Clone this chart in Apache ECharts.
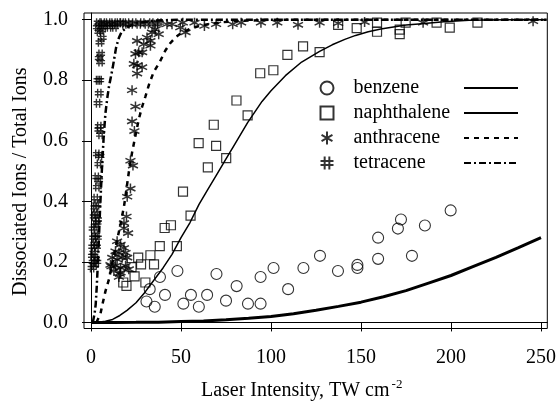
<!DOCTYPE html>
<html>
<head>
<meta charset="utf-8">
<script src="https://cdn.jsdelivr.net/npm/echarts@6/dist/echarts.min.js"></script>
<style>
html, body { margin: 0; padding: 0; background: #fff; }
#chartmain { width: 559px; height: 406px; }
</style>
</head>
<body>
<div id="chartmain"></div>
<script>
var names = ['benzene', 'naphthalene', 'anthracene', 'tetracene'];
var xTicks = [0, 50, 100, 150, 200, 250];
var yTicks = [0, 0.2, 0.4, 0.6, 0.8, 1.0];

// measured points [intensity, fraction]
var benzeneData = [[30.8,0.069],[35.4,0.052],[32.6,0.11],[38.3,0.15],[41.1,0.091],[48,0.17],[51.3,0.062],
	[55.5,0.091],[59.9,0.052],[64.5,0.091],[69.7,0.16],[75,0.072],[80.9,0.12],[87.2,0.062],[94.2,0.062],
	[94.2,0.15],[101.4,0.18],[109.5,0.11],[118,0.18],[127.2,0.22],[137.2,0.17],[148,0.19],[148,0.18],
	[159.5,0.21],[159.5,0.28],[170.5,0.31],[172.2,0.34],[178.3,0.22],[185.5,0.32],[199.8,0.37]];
var naphthaleneData = [[17.9,0.132],[19.7,0.121],[22.5,0.183],[24.2,0.152],[26.2,0.214],[27.8,0.192],
	[30.2,0.132],[33,0.222],[35,0.192],[38.2,0.252],[40.9,0.312],[44.4,0.321],[47.7,0.252],[51.1,0.432],
	[55.3,0.353],[59.8,0.592],[64.9,0.512],[68.2,0.653],[69.5,0.583],[75.1,0.543],[80.8,0.733],[87,0.684],
	[94,0.823],[101.3,0.833],[109.1,0.884],[117.8,0.912],[127,0.893],[137.3,0.983],[147.6,0.972],
	[158.9,0.99],[158.9,0.96],[171.5,0.967],[171.5,0.952],[174.8,0.99],[192,0.99],[199.3,0.974],[214.7,0.99]];
var anthraceneData = [[10.8,0.19],[11.4,0.185],[11.8,0.214],[12.7,0.17],[13.6,0.235],[13.6,0.187],
	[14.5,0.268],[14.5,0.208],[15.5,0.23],[15.5,0.15],[16,0.16],[16.4,0.257],[16.4,0.181],[16.4,0.165],
	[17.3,0.214],[18.3,0.311],[18.3,0.246],[19.2,0.23],[19.2,0.187],[20.1,0.214],[21,0.176],[20.6,0.295],
	[19.7,0.35],[18.3,0.328],[20.1,0.415],[21.9,0.442],[21.9,0.534],[23.3,0.518],[22.8,0.664],[24.1,0.632],
	[22.8,0.767],[24.7,0.713],[25.6,0.822],[23.8,0.854],[25.6,0.849],[28.4,0.843],[24.7,0.887],[26.5,0.892],
	[28.4,0.892],[29.3,0.919],[33,0.914],[25.6,0.93],[31.1,0.941],[33,0.93],[33.9,0.958],[35.7,0.968],
	[37.6,0.952],[42.2,0.985],[45,0.985],[49.6,0.974],[51,0.99],[52.5,0.958],[57.5,0.99],[63,0.979],
	[69.5,0.985],[78.7,0.985],[83.4,0.99],[94.4,0.99],[103.5,0.99],[115,0.983],[127,0.99],[137.3,0.988],
	[152,0.992],[184.5,0.99],[245.6,0.995]];
var tetraceneData = [[0.6,0.18],[1.2,0.2],[2.0,0.19],[0.8,0.22],[1.6,0.23],[2.5,0.21],[3.2,0.2],[1.0,0.25],
	[2.2,0.26],[3.0,0.25],[1.5,0.28],[2.6,0.29],[3.5,0.28],[1.2,0.31],[2.4,0.32],[3.3,0.33],[1.8,0.35],
	[2.8,0.36],[3.6,0.34],[2.2,0.38],[3.2,0.39],[2.6,0.41],[3.5,0.447],[4.2,0.47],[3.2,0.48],[4.4,0.523],
	[3.5,0.556],[5.0,0.55],[4.4,0.637],[5.3,0.62],[4.6,0.648],[3.9,0.724],[4.6,0.757],[3.9,0.8],[4.8,0.8],
	[5.3,0.86],[4.6,0.873],[5.3,0.887],[5.0,0.925],[6.2,0.94],[4.4,0.96],[5.8,0.965],[5,0.985],[6.5,0.99],
	[8,0.985],[9.5,0.99],[11,0.985],[12.5,0.99],[14,0.985],[15.5,0.99],[17,0.99],[18.5,0.985],[20,0.99],
	[22,0.985],[24,0.99],[26.5,0.985],[28.5,0.99],[31,0.985],[33.5,0.99],[36,0.985],[38,0.99],[4,0.99],
	[7,0.975],[10,0.975],[13,0.975],[3.5,0.975]];

// fitted curves
var benzeneFit = [[0,0],[12.5,0.0001],[25,0.0004],[37.5,0.001],[50,0.003],[62.5,0.005],[75,0.009],
	[87.5,0.014],[100,0.02],[112.5,0.029],[125,0.04],[137.5,0.053],[150,0.067],[162.5,0.085],[175,0.105],
	[187.5,0.13],[200,0.155],[212.5,0.185],[225,0.215],[237.5,0.247],[250,0.28]];
var naphthaleneFit = [[3,0],[8,0.004],[12,0.01],[16,0.023],[20,0.04],[25,0.065],[30,0.1],[35,0.14],
	[40,0.18],[45,0.225],[50,0.28],[55,0.33],[60,0.39],[65,0.44],[70,0.49],[75,0.54],[80,0.59],[87,0.66],
	[95,0.73],[100,0.765],[108,0.815],[117,0.86],[127,0.895],[134,0.917],[141,0.935],[147,0.948],[154,0.96],
	[161,0.969],[168,0.976],[175,0.982],[182,0.986],[196,0.993],[210,0.998],[230,1.0],[253,1.0]];
var anthraceneFit = [[3,0],[5.3,0.03],[6.2,0.056],[8.1,0.105],[10,0.143],[13,0.23],[16.4,0.325],
	[18.3,0.382],[21,0.496],[22.8,0.561],[24.1,0.6],[26.5,0.67],[28.4,0.713],[30.2,0.746],[32.4,0.789],
	[34.8,0.827],[38.2,0.86],[41.3,0.898],[44,0.922],[46.8,0.941],[50,0.955],[55,0.97],[60,0.979],
	[65,0.985],[72,0.991],[80,0.995],[100,1.0],[253,1.0]];
var tetraceneFit = [[1,0],[2,0.03],[2.6,0.06],[3.2,0.12],[4,0.22],[5,0.37],[6,0.5],[7,0.61],[8,0.69],
	[9,0.74],[10,0.78],[11,0.81],[12,0.84],[13,0.875],[14,0.91],[15.5,0.94],[17,0.96],[20,0.975],
	[25,0.988],[35,0.997],[50,1.0],[253,1.0]];

var font = 'Liberation Serif';
var asterisk = 'path://M5,0 L5,10 M0.8,2.6 L9.2,7.4 M0.8,7.4 L9.2,2.6';
var hash = 'path://M3.2,0 L3.2,10 M6.8,0 L6.8,10 M0,3.4 L10,3.4 M0,6.6 L10,6.6';

function pointSeries(name, data, symbol, size, width) {
	return {
		name : name,
		type : 'scatter',
		data : data,
		symbol : symbol,
		symbolSize : size,
		z : 3,
		itemStyle : { color : 'none', borderColor : '#000', borderWidth : width }
	};
}
function fitSeries(name, data, width, dash) {
	return {
		name : name,
		type : 'line',
		data : data,
		symbol : 'none',
		color : '#000',
		z : 2,
		lineStyle : { color : '#000', width : width, type : dash }
	};
}

var option = {
	animation : false,
	textStyle : { fontFamily : font, color : '#000' },
	grid : { left : 84, right : 10, top : 13, bottom : 73, show : true, borderColor : '#000', borderWidth : 1 },
	legend : [ {
		data : names,
		orient : 'vertical',
		left : 318,
		top : 78,
		padding : 0,
		itemGap : 5,
		itemWidth : 13,
		itemHeight : 13,
		textStyle : { fontFamily : font, fontSize : 20, lineHeight : 20, color : '#000', padding : [0, 0, 0, 15] }
	}, {
		data : ['benzene fit', 'naphthalene fit', 'anthracene fit', 'tetracene fit'],
		orient : 'vertical',
		left : 463,
		top : 78,
		padding : 0,
		itemGap : 5,
		itemWidth : 54,
		itemHeight : 13,
		itemStyle : { color : 'none', borderWidth : 0, opacity : 0 },
		formatter : function() { return ' '; },
		textStyle : { fontFamily : font, fontSize : 20, lineHeight : 20 }
	} ],
	xAxis : {
		type : 'value',
		min : -3.9,
		max : 253.5,
		name : 'Laser Intensity, TW cm{sup|-2}',
		nameLocation : 'middle',
		nameGap : 50,
		nameTextStyle : {
			fontFamily : font, fontSize : 20, color : '#000', padding : [0, 28, 0, 0],
			rich : { sup : { fontFamily : font, fontSize : 13, verticalAlign : 'top', padding : [0, 0, 12, 2] } }
		},
		splitLine : { show : false },
		axisLine : { lineStyle : { color : '#000' } },
		axisTick : { customValues : xTicks, length : 9, lineStyle : { color : '#000' } },
		axisLabel : { customValues : xTicks, margin : 19, fontFamily : font, fontSize : 20, color : '#000' }
	},
	yAxis : {
		type : 'value',
		min : -0.02,
		max : 1.022,
		name : 'Dissociated Ions / Total Ions',
		nameLocation : 'middle',
		nameGap : 53,
		nameTextStyle : { fontFamily : font, fontSize : 20, color : '#000', padding : [0, 22, 0, 0] },
		splitLine : { show : false },
		axisLine : { lineStyle : { color : '#000' } },
		axisTick : { customValues : yTicks, length : 9, lineStyle : { color : '#000' } },
		axisLabel : {
			customValues : yTicks, margin : 16, fontFamily : font, fontSize : 20, color : '#000',
			formatter : function(v) { return v.toFixed(1); }
		}
	},
	series : [
		fitSeries('benzene fit', benzeneFit, 3, 'solid'),
		fitSeries('naphthalene fit', naphthaleneFit, 1.5, 'solid'),
		fitSeries('anthracene fit', anthraceneFit, 2.5, [5, 5]),
		fitSeries('tetracene fit', tetraceneFit, 2.5, [7, 3, 2, 3]),
		pointSeries('benzene', benzeneData, 'circle', 11, 1.1),
		pointSeries('naphthalene', naphthaleneData, 'rect', 9, 1.2),
		pointSeries('anthracene', anthraceneData, asterisk, 10, 1.5),
		pointSeries('tetracene', tetraceneData, hash, 9, 1.4)
	]
};
var myChart = echarts.init(document.getElementById('chartmain'));
myChart.setOption(option);
</script>
</body>
</html>
